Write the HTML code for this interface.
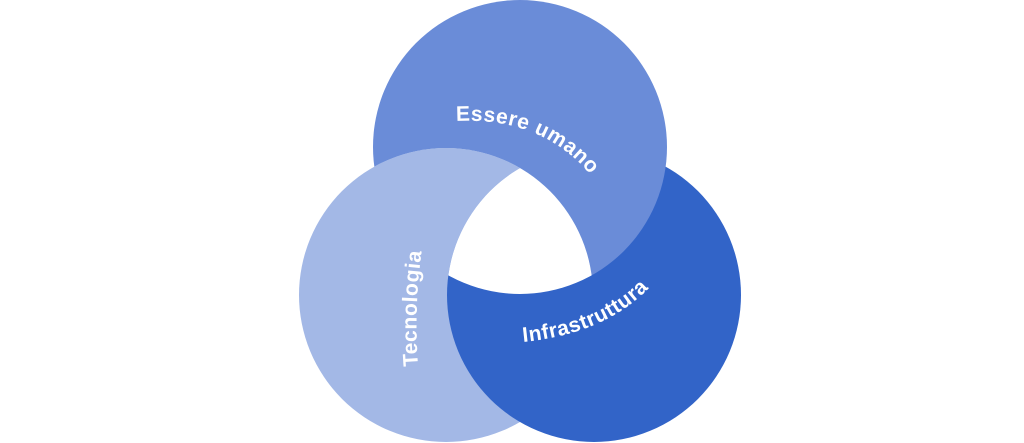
<!DOCTYPE html>
<html><head><meta charset="utf-8"><style>
html,body{margin:0;padding:0;background:#fff;width:1024px;height:443px;overflow:hidden}
svg{display:block}
text{font-family:"Liberation Sans",sans-serif;font-weight:bold;font-size:21px;fill:#fff;letter-spacing:0.6px}
</style></head><body>
<svg width="1024" height="443" viewBox="0 0 1024 443">
<defs>
<mask id="mT"><rect width="1024" height="443" fill="#fff"/><circle cx="446" cy="295" r="147" fill="#000"/></mask>
<clipPath id="cL"><circle cx="446" cy="295" r="147"/></clipPath>
<clipPath id="cR"><circle cx="594" cy="295" r="147"/></clipPath>
<path id="pE" d="M456,121 Q547,116 598,184"/>
<path id="pT" d="M418,366 Q413,298 425,230"/>
<path id="pI" d="M523,342 Q624,332 668,264"/>
</defs>
<circle cx="446" cy="295" r="147" fill="#a3b8e6"/>
<circle cx="594" cy="295" r="147" fill="#3264c8"/>
<circle cx="520" cy="147" r="147" fill="#6a8cd8" mask="url(#mT)"/>
<g clip-path="url(#cL)"><g clip-path="url(#cR)"><circle cx="520" cy="147" r="147" fill="#fff"/></g></g>
<text><textPath href="#pE">Essere umano</textPath></text>
<text><textPath href="#pT">Tecnologia</textPath></text>
<text><textPath href="#pI">Infrastruttura</textPath></text>
</svg>
</body></html>
